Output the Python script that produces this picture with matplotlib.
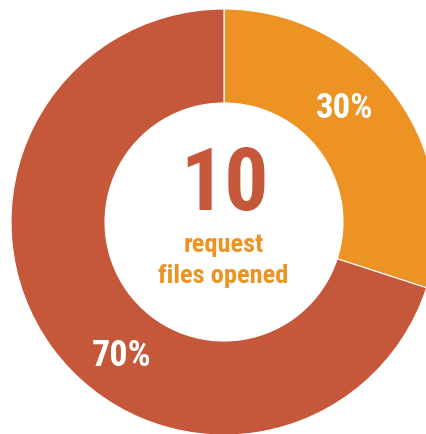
import matplotlib
matplotlib.use("Agg")
import matplotlib.pyplot as plt

labels = ["30%", "70%"]
values = [30, 70]
colors = ["#EC9323", "#C5573A"]
center_value = "10"
caption_lines = ["request", "files opened"]

FONT = ["Roboto Condensed", "Oswald", "Liberation Sans Narrow", "Roboto", "DejaVu Sans"]

fig = plt.figure(figsize=(4.27, 4.35), dpi=100)
ax = fig.add_axes([0, 0, 1, 1])
cx, cy, R = 224, 212, 213
ax.pie(values, colors=colors, center=(cx, cy), radius=R, startangle=90,
       counterclock=False, frame=True,
       wedgeprops=dict(width=R - 119, edgecolor="white", linewidth=0.8))
ax.set_xlim(0, 427)
ax.set_ylim(0, 435)
ax.axis("off")

H = 435
ax.text(345, H - 118, labels[0], color="white", fontsize=25, fontweight="bold",
        family=FONT, ha="center", va="baseline")
ax.text(122, H - 366.5, labels[1], color="white", fontsize=26, fontweight="bold",
        family=FONT, ha="center", va="baseline")
ax.text(225, H - 210, center_value, color=colors[1], fontsize=63, fontweight="bold",
        family=FONT, ha="center", va="baseline")
ax.text(224, H - 251.7, caption_lines[0], color=colors[0], fontsize=19, fontweight="bold",
        family=FONT, ha="center", va="baseline")
ax.text(223, H - 283.3, caption_lines[1], color=colors[0], fontsize=19, fontweight="bold",
        family=FONT, ha="center", va="baseline")

fig.savefig("out.png", dpi=100)
